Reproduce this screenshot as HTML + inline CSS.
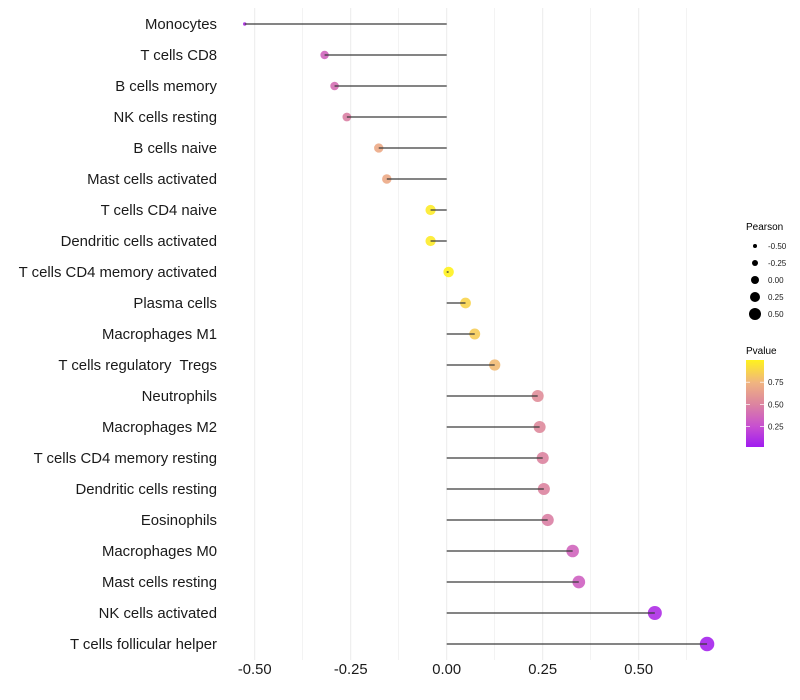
<!DOCTYPE html>
<html><head><meta charset="utf-8">
<style>
body{margin:0;background:#fff;}
svg{display:block;font-family:"Liberation Sans",Arial,sans-serif;}
</style></head>
<body>
<svg id="chart" width="800" height="700" viewBox="0 0 800 700">
<defs>
<linearGradient id="pgrad" x1="0" y1="1" x2="0" y2="0">
<stop offset="0" stop-color="#a01cf0"/>
<stop offset="0.24" stop-color="#c850d0"/>
<stop offset="0.49" stop-color="#dc84a0"/>
<stop offset="0.74" stop-color="#f0b480"/>
<stop offset="1" stop-color="#fff21e"/>
</linearGradient>
</defs>
<g id="grid"></g>
<g id="ylabels"></g>
<g id="marks"></g>
<g id="xlabels"></g>
<g id="sizeLegend">
<text x="746" y="230" font-size="10" fill="#000">Pearson</text>
</g>
<g>
<text x="746" y="354" font-size="10" fill="#000">Pvalue</text>
<rect x="746" y="360" width="18" height="87" fill="url(#pgrad)"/>
<g id="cticks"></g>
</g>
</svg>
<script>
const categories=["Monocytes","T cells CD8","B cells memory","NK cells resting","B cells naive","Mast cells activated","T cells CD4 naive","Dendritic cells activated","T cells CD4 memory activated","Plasma cells","Macrophages M1","T cells regulatory  Tregs","Neutrophils","Macrophages M2","T cells CD4 memory resting","Dendritic cells resting","Eosinophils","Macrophages M0","Mast cells resting","NK cells activated","T cells follicular helper"];
const pearson=[-0.526,-0.318,-0.292,-0.260,-0.177,-0.156,-0.042,-0.042,0.005,0.049,0.073,0.125,0.237,0.242,0.250,0.253,0.263,0.328,0.344,0.542,0.678];
const pvalue=[0.10,0.35,0.40,0.48,0.70,0.70,0.97,0.97,1.0,0.88,0.85,0.78,0.55,0.53,0.50,0.50,0.48,0.35,0.33,0.10,0.05];
const xTicks=[-0.5,-0.25,0,0.25,0.5];
const xTickLabels=["-0.50","-0.25","0.00","0.25","0.50"];
const sizeLegendVals=[-0.5,-0.25,0,0.25,0.5];
const sizeLegendLabels=["-0.50","-0.25","0.00","0.25","0.50"];
const pTicks=[0.25,0.5,0.75];
const pTickLabels=["0.25","0.50","0.75"];

const NS="http://www.w3.org/2000/svg";
const xs=v=>446.7+v*384;
const ys=i=>24+i*31;
const sDom=[-0.53,-0.32,-0.04,0.24,0.54,0.7];
const sRng=[1.7,4.2,5.1,6.0,7.0,7.3];
function rs(v){
  if(v<=sDom[0])return sRng[0];
  for(let i=0;i<sDom.length-1;i++){
    if(v<=sDom[i+1]){const t=(v-sDom[i])/(sDom[i+1]-sDom[i]);return sRng[i]+t*(sRng[i+1]-sRng[i]);}
  }
  return sRng[sRng.length-1];
}
const rLeg=v=>2+(v+0.5)*4;
const py=p=>447-(p-0.02)/0.98*87;
const stops=[[0.02,[160,28,240]],[0.25,[200,80,208]],[0.5,[220,132,160]],[0.75,[240,180,128]],[1.0,[255,242,30]]];
function pcol(p){
  for(let i=0;i<stops.length-1;i++){
    const a=stops[i],b=stops[i+1];
    if(p<=b[0]||i===stops.length-2){
      let t=Math.min(1,Math.max(0,(p-a[0])/(b[0]-a[0])));
      const c=a[1].map((v,k)=>Math.round(v+(b[1][k]-v)*t));
      return "rgb("+c.join(",")+")";
    }
  }
}
function mk(tag,attrs,parent){const e=document.createElementNS(NS,tag);for(const k in attrs)e.setAttribute(k,attrs[k]);parent.appendChild(e);return e;}
const grid=document.getElementById("grid");
for(let v=-0.5;v<=0.626;v+=0.125){
  const l=mk("line",{x1:xs(v),x2:xs(v),y1:8,y2:660,stroke:"#ebebeb","stroke-width":Math.abs(v*4-Math.round(v*4))<0.01?1:0.6},grid);
  
  
}
const xl=document.getElementById("xlabels");
xTicks.forEach((v,i)=>{
  const t=mk("text",{x:xs(v),y:674,"text-anchor":"middle","font-size":14.8,fill:"#1a1a1a"},xl);
  t.textContent=xTickLabels[i];
  
  
});
const yl=document.getElementById("ylabels"),mg=document.getElementById("marks");
categories.forEach((c,i)=>{
  const t=mk("text",{x:217,y:ys(i)+5,"text-anchor":"end","font-size":14.9,fill:"#1a1a1a","xml:space":"preserve",style:"white-space:pre"},yl);
  t.textContent=c;
  
  
  const d=mk("circle",{cx:xs(pearson[i]),cy:ys(i),r:rs(pearson[i]),fill:pcol(pvalue[i]),"fill-opacity":0.9},mg);
  
  
  const s=mk("line",{x1:xs(0),x2:xs(pearson[i]),y1:ys(i),y2:ys(i),stroke:"#3a3a3a","stroke-width":1.3},mg);
  
  
});
const sl=document.getElementById("sizeLegend");
sizeLegendVals.forEach((v,i)=>{
  const y=246+i*17;
  const c=mk("circle",{cx:755,cy:y,r:rLeg(v),fill:"#000"},sl);
  
  
  const t=mk("text",{x:768,y:y+3,"font-size":8,fill:"#1a1a1a"},sl);
  t.textContent=sizeLegendLabels[i];
  
  
});
const ct=document.getElementById("cticks");
pTicks.forEach((p,i)=>{
  const y=py(p);
  mk("line",{x1:746,x2:750,y1:y,y2:y,stroke:"#fff","stroke-width":0.7},ct);
  mk("line",{x1:760,x2:764,y1:y,y2:y,stroke:"#fff","stroke-width":0.7},ct);
  const t=mk("text",{x:768,y:y+3,"font-size":8,fill:"#1a1a1a"},ct);
  t.textContent=pTickLabels[i];
  
  
});
</script>
</body></html>
